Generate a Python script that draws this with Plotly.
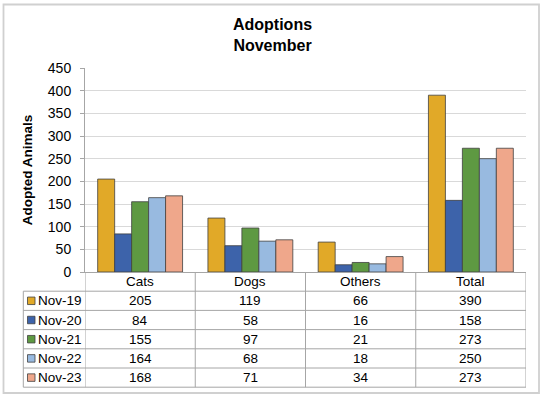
import plotly.graph_objects as go

categories = ["Cats", "Dogs", "Others", "Total"]
series_names = ["Nov-19", "Nov-20", "Nov-21", "Nov-22", "Nov-23"]
nov19 = [205, 119, 66, 390]
nov20 = [84, 58, 16, 158]
nov21 = [155, 97, 21, 273]
nov22 = [164, 68, 18, 250]
nov23 = [168, 71, 34, 273]
series_values = [nov19, nov20, nov21, nov22, nov23]
colors = ["#E1A928", "#3D63AA", "#5E9942", "#98BAE0", "#EFA78B"]
y_ticks = [0, 50, 100, 150, 200, 250, 300, 350, 400, 450]

FONT = "Liberation Sans, Arial, sans-serif"
W, H = 545, 400
ML, MR, MT, MB = 85, 19, 68, 128
PW, PH = W - ML - MR, H - MT - MB
ROW_H = 19.2
LINE_COL = "#A6A6A6"


def py(off):
    """paper y for a pixel offset below the x axis"""
    return -off / PH


def px(xpix):
    return (xpix - ML) / PW


def pyabs(ypix):
    return (H - MB - ypix) / PH


fig = go.Figure()
for name, vals, col in zip(series_names, series_values, colors):
    fig.add_trace(go.Bar(
        name=name, x=categories, y=vals,
        marker=dict(color=col, line=dict(color="#404040", width=0.8)),
        showlegend=False,
    ))

shapes = []
annotations = []

# outer chart border
shapes.append(dict(type="rect", xref="paper", yref="paper",
                   x0=px(3.5), x1=px(539), y0=pyabs(393), y1=pyabs(4.5),
                   line=dict(color="#D0D0D0", width=1.8), layer="below"))

n_rows = len(series_names) + 1
table_bottom = py(ROW_H * n_rows)
legend_left = px(23.3)

# vertical separators of the data table (category boundaries)
for i in range(len(categories) + 1):
    shapes.append(dict(type="line", xref="x", yref="paper",
                       x0=i - 0.5, x1=i - 0.5, y0=0, y1=table_bottom,
                       line=dict(color=LINE_COL, width=1)))
# left border of legend column
shapes.append(dict(type="line", xref="paper", yref="paper",
                   x0=legend_left, x1=legend_left, y0=py(ROW_H), y1=table_bottom,
                   line=dict(color=LINE_COL, width=1)))
# horizontal row lines
for r in range(1, n_rows + 1):
    shapes.append(dict(type="line", xref="paper", yref="paper",
                       x0=legend_left, x1=1, y0=py(ROW_H * r), y1=py(ROW_H * r),
                       line=dict(color=LINE_COL, width=1)))

# header row: category names
for c in categories:
    annotations.append(dict(x=c, xref="x", y=py(ROW_H * 0.5), yref="paper",
                            text=c, showarrow=False, xanchor="center", yanchor="middle",
                            font=dict(family=FONT, size=13.5, color="#000")))

# data rows
for r, (name, vals, col) in enumerate(zip(series_names, series_values, colors), start=1):
    yc = py(ROW_H * (r + 0.5))
    # legend key
    shapes.append(dict(type="rect", xref="paper", yref="paper",
                       x0=px(27.5), x1=px(35), y0=yc - 3.75 / PH, y1=yc + 3.75 / PH,
                       fillcolor=col, line=dict(color="#404040", width=0.8)))
    annotations.append(dict(x=px(35.5), xref="paper", y=yc, yref="paper",
                            text=name, showarrow=False, xanchor="left", yanchor="middle",
                            font=dict(family=FONT, size=13.5, color="#000")))
    for c, v in zip(categories, vals):
        annotations.append(dict(x=c, xref="x", y=yc, yref="paper",
                                text=str(v), showarrow=False, xanchor="center", yanchor="middle",
                                font=dict(family=FONT, size=13.5, color="#000")))

fig.update_layout(
    width=W, height=H,
    margin=dict(l=ML, r=MR, t=MT, b=MB, pad=0),
    paper_bgcolor="white", plot_bgcolor="white",
    barmode="group", bargap=0.23, bargroupgap=0,
    title=dict(text="<b>Adoptions<br>November</b>", x=0.5, xanchor="center",
               y=1 - 30 / H, yanchor="middle",
               font=dict(family=FONT, size=16, color="#000")),
    xaxis=dict(showticklabels=False, ticks="", showgrid=False, zeroline=False,
               showline=True, linecolor=LINE_COL, linewidth=1,
               range=[-0.5, 3.5], fixedrange=True),
    yaxis=dict(range=[0, 450], tickvals=y_ticks, showgrid=True, gridcolor="#D9D9D9",
               gridwidth=1, zeroline=False, showline=True, linecolor=LINE_COL, linewidth=1,
               ticks="outside", ticklen=4, tickcolor=LINE_COL, ticklabelstandoff=6,
               tickfont=dict(family=FONT, size=14, color="#000"),
               title=dict(text="<b>Adopted Animals</b>", standoff=12,
                          font=dict(family=FONT, size=13.5, color="#000")),
               fixedrange=True),
    shapes=shapes, annotations=annotations,
)

fig.write_html("out.html", config={"displayModeBar": False},
               post_script="document.body.style.margin='0';document.body.style.overflow='hidden';")
